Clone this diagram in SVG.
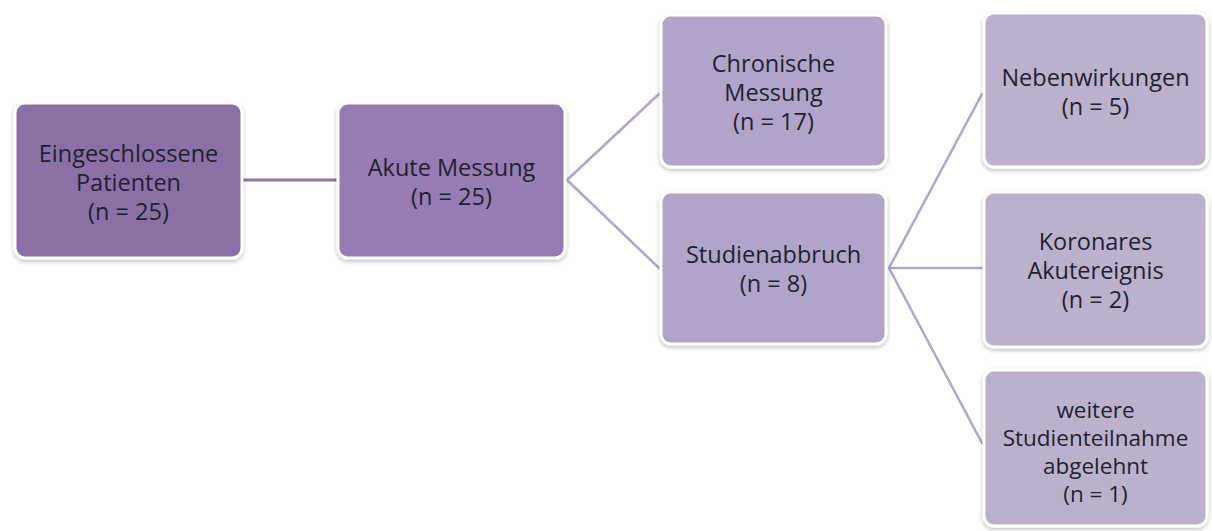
<svg xmlns="http://www.w3.org/2000/svg" width="1212" height="531" viewBox="0 0 1212 531">
  <defs>
    <filter id="sh" x="-10%" y="-10%" width="120%" height="125%">
      <feGaussianBlur in="SourceAlpha" stdDeviation="2"/>
      <feOffset dx="0" dy="2" result="b"/>
      <feComponentTransfer><feFuncA type="linear" slope="0.25"/></feComponentTransfer>
      <feMerge><feMergeNode/><feMergeNode in="SourceGraphic"/></feMerge>
    </filter>
  </defs>
  <style>
    .box { stroke: #ffffff; stroke-width: 3; filter: url(#sh); }
    .c1 { fill: #8a6fa5; }
    .c2 { fill: #957bb2; }
    .c3 { fill: #b1a4c8; }
    .c4 { fill: #bbb1cd; }
    .t { font-family: "Open Sans", "Liberation Sans", sans-serif; font-size: 23.5px; fill: #231f33; text-anchor: middle; }
    .s { font-size: 22.5px; }
    .ln { fill: none; stroke-width: 2.5; stroke-linecap: round; }
    .la { stroke: #8b74a8; stroke-width: 3; }
    .lb { stroke: #b2a6c8; }
  </style>
  <rect width="1212" height="531" fill="#ffffff"/>
  <g id="connectors">
    <line class="ln la" x1="243" y1="180" x2="337" y2="180"/>
    <line class="ln lb" x1="567" y1="180" x2="659" y2="94"/>
    <line class="ln lb" x1="567" y1="180" x2="659" y2="268"/>
    <line class="ln lb" x1="889" y1="268" x2="982" y2="94"/>
    <line class="ln lb" x1="889" y1="268" x2="982" y2="268"/>
    <line class="ln lb" x1="889" y1="268" x2="982" y2="443"/>
  </g>
  <g id="n1">
    <rect class="box c1" x="15" y="103" width="227" height="155" rx="10"/>
    <text class="t"><tspan x="128.5" y="162">Eingeschlossene</tspan><tspan x="128.5" y="191">Patienten</tspan><tspan x="128.5" y="220">(n = 25)</tspan></text>
  </g>
  <g id="n2">
    <rect class="box c2" x="338" y="103" width="227" height="155" rx="10"/>
    <text class="t"><tspan x="451.5" y="176">Akute Messung</tspan><tspan x="451.5" y="205">(n = 25)</tspan></text>
  </g>
  <g id="n3">
    <rect class="box c3" x="661" y="15" width="225" height="152" rx="10"/>
    <text class="t"><tspan x="773.5" y="72">Chronische</tspan><tspan x="773.5" y="101">Messung</tspan><tspan x="773.5" y="130">(n = 17)</tspan></text>
  </g>
  <g id="n4">
    <rect class="box c3" x="661" y="192" width="225" height="152" rx="10"/>
    <text class="t"><tspan x="773.5" y="263">Studienabbruch</tspan><tspan x="773.5" y="292">(n = 8)</tspan></text>
  </g>
  <g id="n5">
    <rect class="box c4" x="984" y="13" width="223" height="154" rx="10"/>
    <text class="t"><tspan x="1095.5" y="86">Nebenwirkungen</tspan><tspan x="1095.5" y="115">(n = 5)</tspan></text>
  </g>
  <g id="n6">
    <rect class="box c4" x="984" y="192" width="223" height="155" rx="10"/>
    <text class="t"><tspan x="1095.5" y="250">Koronares</tspan><tspan x="1095.5" y="279">Akutereignis</tspan><tspan x="1095.5" y="308">(n = 2)</tspan></text>
  </g>
  <g id="n7">
    <rect class="box c4" x="984" y="370" width="223" height="156" rx="10"/>
    <text class="t s"><tspan x="1095.5" y="418">weitere</tspan><tspan x="1095.5" y="446">Studienteilnahme</tspan><tspan x="1095.5" y="474">abgelehnt</tspan><tspan x="1095.5" y="502">(n = 1)</tspan></text>
  </g>
</svg>
